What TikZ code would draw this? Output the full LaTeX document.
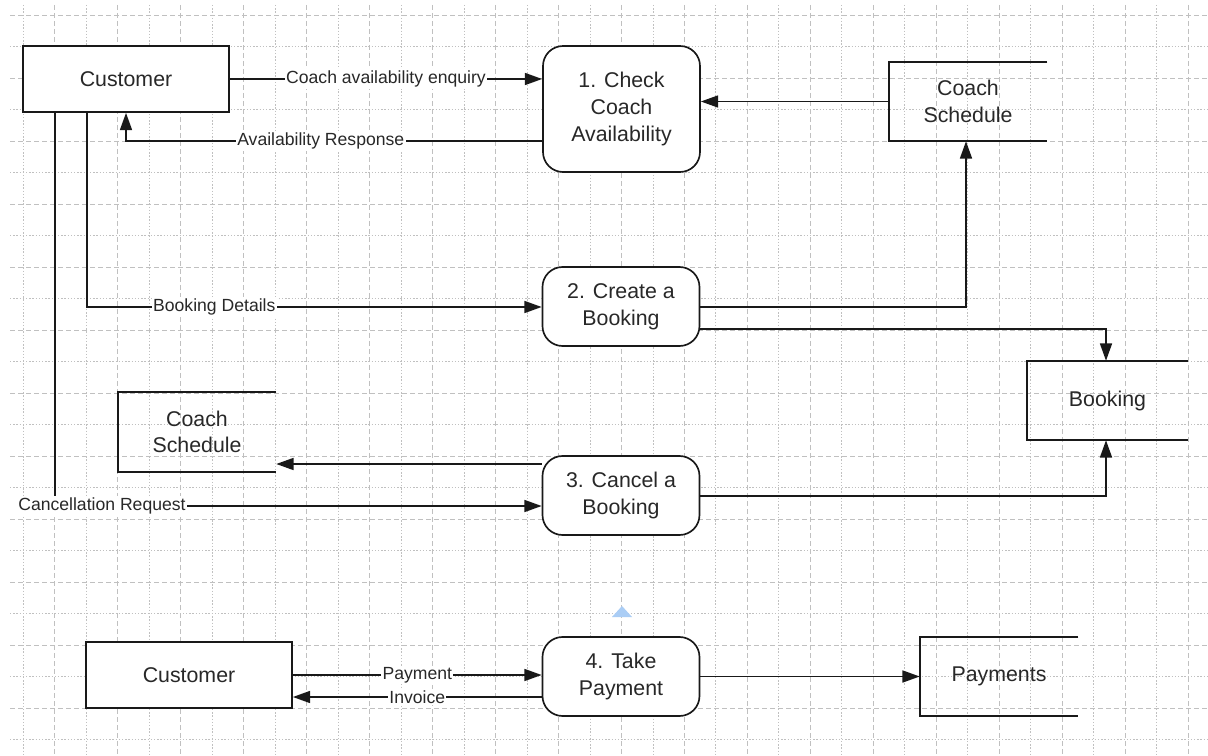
\documentclass[tikz,border=0pt]{standalone}
\usepackage{fontspec}
\setmainfont{Liberation Sans}
\usetikzlibrary{arrows.meta}
\definecolor{gridc}{RGB}{192,192,192}
\definecolor{txt}{RGB}{40,40,40}
\definecolor{handle}{RGB}{170,205,245}
\begin{document}
\begin{tikzpicture}[x=0.75pt,y=-0.75pt,
  conn/.style={line width=1.25pt, draw=black!90},
  arr/.style={conn, -{Triangle[length=13pt,width=9pt]}},
  ent/.style={draw=black!90, line width=1.25pt, fill=white, minimum width=154.5pt, minimum height=49.5pt, font=\fontsize{16}{20}\selectfont, text=txt},
  proc/.style={draw=black!90, line width=1.25pt, fill=white, rounded corners=15pt, minimum width=117.75pt, minimum height=59.25pt, align=center, font=\fontsize{16}{20}\selectfont, text=txt},
  store/.style={minimum width=118.5pt, minimum height=59.25pt, align=center, font=\fontsize{16}{20}\selectfont, text=txt},
  lbl/.style={fill=white, inner sep=1pt, font=\fontsize{13.2}{16}\selectfont, text=txt},
  gdash/.style={draw=gridc, line width=0.6pt, dash pattern=on 4pt off 2pt},
  gdot/.style={draw=gridc, line width=0.6pt, dash pattern=on 1pt off 1.4pt}]

\fill[white] (0,0) rectangle (1208,756);
\useasboundingbox (0,0) rectangle (1208,756);

% grid
\foreach \k in {0,...,23}{\pgfmathsetmacro\yy{15+31.5*\k}
  \ifodd\k \draw[gdot] (10,\yy) -- (1208,\yy); \else \draw[gdash] (10,\yy) -- (1208,\yy); \fi}
\foreach \k in {0,...,37}{\pgfmathsetmacro\xx{23.3+31.48*\k}
  \ifodd\k \draw[gdash] (\xx,5) -- (\xx,756); \else \draw[gdot] (\xx,5) -- (\xx,756); \fi}

% nodes
\node[ent] (cust1) at (126,79) {Customer};
\node[proc, minimum height=94.5pt] (p1) at (621.5,109) {1. Check\\Coach\\Availability};
\node[store] (cs1) at (968,101.5) {Coach\\Schedule};
\node[proc] (p2) at (621,306.5) {2. Create a\\Booking};
\node[store, minimum width=120.75pt] (book) at (1107.5,400.5) {Booking};
\node[store] (cs2) at (197,432) {Coach\\Schedule};
\node[proc] (p3) at (621,495.5) {3. Cancel a\\Booking};
\node[ent] (cust2) at (189,675) {Customer};
\node[proc] (p4) at (621,676.5) {4. Take\\Payment};
\node[store] (pay) at (999,676.5) {Payments};

% open-ended store outlines
\draw[conn] (cs1.north east) -- (cs1.north west) -- (cs1.south west) -- (cs1.south east);
\draw[conn] (book.north east) -- (book.north west) -- (book.south west) -- (book.south east);
\draw[conn] (cs2.north east) -- (cs2.north west) -- (cs2.south west) -- (cs2.south east);
\draw[conn] (pay.north east) -- (pay.north west) -- (pay.south west) -- (pay.south east);

% connectors
\coordinate (ar) at (126,141);
\coordinate (bd) at (87,307);
\coordinate (cr) at (55,506);
\coordinate (c2s) at (966,307);
\coordinate (c2b) at (1106,329);
\coordinate (c3b) at (1106,496);
\coordinate (c3s) at (400,464);
\coordinate (inv) at (400,697);

\draw[arr] (cust1.east) -- node[lbl]{Coach availability enquiry} (cust1.east -| p1.west);
\draw[arr] (ar -| p1.west) -- node[lbl, pos=0.532]{Availability Response} (ar) -- (ar |- cust1.south);
\draw[arr] (cs1.west) -- (cs1.west -| p1.east);
\draw[arr] (bd |- cust1.south) -- (bd) -- node[lbl, pos=0.28]{Booking Details} (bd -| p2.west);
\draw[arr] (c2s -| p2.east) -- (c2s) -- (c2s |- cs1.south);
\draw[arr] (c2b -| p2.east) -- (c2b) -- (c2b |- book.north);
\draw[arr] (c3b -| p3.east) -- (c3b) -- (c3b |- book.south);
\draw[arr] (c3s -| p3.west) -- (c3s -| cs2.east);
\draw[arr] (cr |- cust1.south) -- (cr) -- node[lbl, pos=0.0965]{Cancellation Request} (cr -| p3.west);
\draw[arr] (cust2.east) -- node[lbl]{Payment} (cust2.east -| p4.west);
\draw[arr] (inv -| p4.west) -- node[lbl]{Invoice} (inv -| cust2.east);
\draw[arr] (p4.east) -- (pay.west);

% selection handle
\fill[handle] (612,617) -- (632,617) -- (622,606) -- cycle;
\end{tikzpicture}
\end{document}
